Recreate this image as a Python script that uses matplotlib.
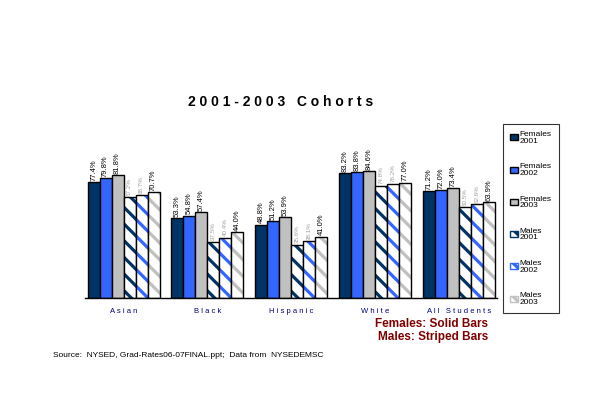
import numpy as np
import matplotlib
matplotlib.use('Agg')
import matplotlib.pyplot as plt
from matplotlib.patches import Patch

groups = ['Asian', 'Black', 'Hispanic', 'White', 'All Students']
series_names = ['Females\n2001', 'Females\n2002', 'Females\n2003',
                'Males\n2001', 'Males\n2002', 'Males\n2003']

fem_2001 = [77.4, 53.3, 48.8, 83.2, 71.2]
fem_2002 = [79.8, 54.8, 51.2, 83.8, 72.0]
fem_2003 = [81.8, 57.4, 53.9, 84.6, 73.4]
male_2001 = [67.2, 37.5, 35.6, 74.8, 60.5]
male_2002 = [68.7, 40.4, 38.1, 76.2, 62.6]
male_2003 = [70.7, 44.0, 41.0, 77.0, 63.9]

colors = ['#003366', '#3366FF', '#C0C0C0', '#003366', '#3366FF', '#C0C0C0']


def main():
    plt.rcParams['font.family'] = ['Liberation Sans', 'DejaVu Sans']
    plt.rcParams['hatch.linewidth'] = 2.3
    fig = plt.figure(figsize=(6, 3.96), dpi=100)
    ax = fig.add_axes([0.1417, 0.247, 0.687, 0.379])

    data = [fem_2001, fem_2002, fem_2003, male_2001, male_2002, male_2003]
    x = np.arange(len(groups))
    width = 0.143
    handles = []
    for i, vals in enumerate(data):
        pos = x + (i - 2.5) * width
        if i < 3:
            ax.bar(pos, vals, width, color=colors[i], edgecolor='black', linewidth=1.0)
            handles.append(Patch(facecolor=colors[i], edgecolor='black'))
        else:
            # stripes in series colour, black outline drawn on top
            ax.bar(pos, vals, width, color='white', edgecolor=colors[i],
                   hatch='\\\\', linewidth=0)
            ax.bar(pos, vals, width, fill=False, edgecolor='black', linewidth=1.0)
            handles.append(Patch(facecolor='white', edgecolor=colors[i], hatch='\\\\'))
        for p, v in zip(pos, vals):
            if i in (3, 4):
                txt_color = '#A0A0A0'
                fs = 4.5
            else:
                txt_color = 'black'
                fs = 5.5
            ax.text(p, v + 1.0, '%.1f%%' % v, rotation=90, ha='center', va='bottom',
                    fontsize=fs, color=txt_color)

    ax.set_xlim(-0.46, 4.46)
    ax.set_ylim(0, 100)
    for side in ['top', 'right', 'left']:
        ax.spines[side].set_visible(False)
    ax.spines['bottom'].set_linewidth(1.0)
    ax.set_yticks([])
    ax.set_xticks(x)
    ax.set_xticklabels([' '.join(g) for g in groups], fontsize=5.5, color='#000080')
    ax.tick_params(axis='x', length=0, pad=7)

    fig.text(0.467, 0.742, '2 0 0 1 - 2 0 0 3   C o h o r t s', ha='center', va='center',
             fontsize=10, fontweight='bold')

    fig.text(0.813, 0.183, 'Females: Solid Bars', ha='right', va='center',
             fontsize=8.5, fontweight='bold', color='#800000')
    fig.text(0.813, 0.150, 'Males: Striped Bars', ha='right', va='center',
             fontsize=8.5, fontweight='bold', color='#800000')

    fig.text(0.088, 0.103, 'Source:  NYSED, Grad-Rates06-07FINAL.ppt;  Data from  NYSEDEMSC',
             ha='left', va='center', fontsize=6)

    leg = fig.legend(handles, series_names, loc='upper left',
                     bbox_to_anchor=(0.838, 0.688), fontsize=6, frameon=True,
                     fancybox=False, edgecolor='black', handlelength=0.9,
                     handleheight=0.7, handletextpad=0.2, labelspacing=2.25,
                     borderpad=0.9, borderaxespad=0)
    leg.get_frame().set_linewidth(0.8)
    for t in leg.get_texts():
        t.set_linespacing(0.9)

    fig.savefig('out.png', dpi=100)


if __name__ == '__main__':
    main()
